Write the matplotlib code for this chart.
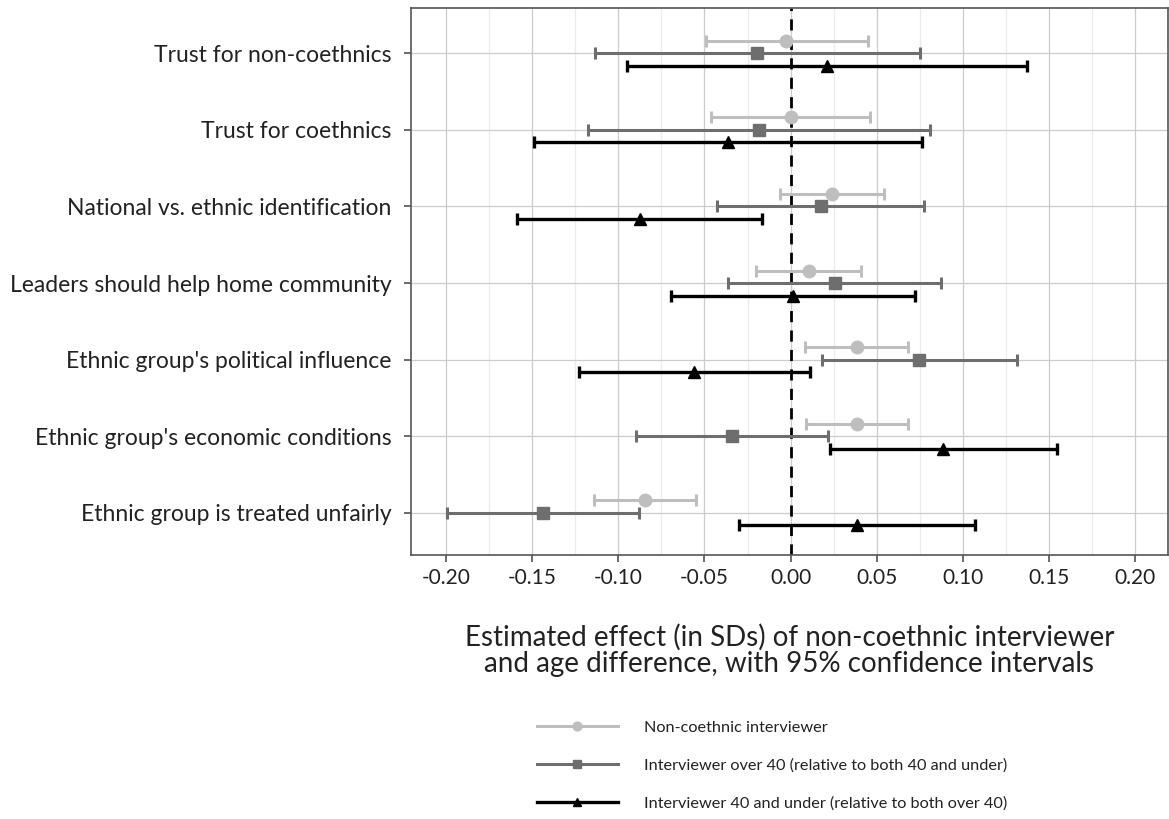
import matplotlib
matplotlib.use("Agg")
import matplotlib.pyplot as plt
import numpy as np
from matplotlib.lines import Line2D
from matplotlib.ticker import MultipleLocator

categories = [
    "Trust for non-coethnics",
    "Trust for coethnics",
    "National vs. ethnic identification",
    "Leaders should help home community",
    "Ethnic group's political influence",
    "Ethnic group's economic conditions",
    "Ethnic group is treated unfairly",
]
series_names = [
    "Non-coethnic interviewer",
    "Interviewer over 40 (relative to both 40 and under)",
    "Interviewer 40 and under (relative to both over 40)",
]
x_tick_values = [-0.20, -0.15, -0.10, -0.05, 0.00, 0.05, 0.10, 0.15, 0.20]
x_tick_labels = ["-0.20", "-0.15", "-0.10", "-0.05", "0.00", "0.05", "0.10", "0.15", "0.20"]

noncoethnic_est = [-0.0025, 0.000, 0.024, 0.0106, 0.0383, 0.0385, -0.0845]
noncoethnic_lo = [-0.049, -0.0464, -0.006, -0.0199, 0.0085, 0.0091, -0.114]
noncoethnic_hi = [0.0448, 0.0462, 0.0543, 0.041, 0.068, 0.0682, -0.0549]

over40_est = [-0.0195, -0.0186, 0.0176, 0.0255, 0.0748, -0.0342, -0.1436]
over40_lo = [-0.1138, -0.1177, -0.0427, -0.0361, 0.0182, -0.0899, -0.1996]
over40_hi = [0.075, 0.081, 0.0777, 0.0875, 0.1316, 0.0218, -0.088]

under40_est = [0.0213, -0.0363, -0.0875, 0.0013, -0.056, 0.0885, 0.0383]
under40_lo = [-0.0949, -0.149, -0.1587, -0.0692, -0.1227, 0.023, -0.030]
under40_hi = [0.137, 0.0763, -0.0164, 0.072, 0.011, 0.1544, 0.1072]

plt.rcParams['font.family'] = ['Lato', 'DejaVu Sans']

fig = plt.figure(figsize=(11.69, 8.19), dpi=100)
ax = fig.add_axes([0.3516, 0.3223, 0.6475, 0.6680])

n = len(categories)
ypos = np.arange(n, 0, -1)  # top category at highest y
offsets = [0.163, 0.0, -0.163]
colors = ["#BEBEBE", "#6E6E6E", "#000000"]
markers = ["o", "s", "^"]
msizes = [9, 8, 9]
lws = [2.2, 2.2, 2.4]
data = [
    (noncoethnic_est, noncoethnic_lo, noncoethnic_hi),
    (over40_est, over40_lo, over40_hi),
    (under40_est, under40_lo, under40_hi),
]

ax.axvline(0, color="black", lw=2, ls=(0, (4, 3)), zorder=2)

handles = []
for (est, lo, hi), off, c, m, ms, lw, name in zip(data, offsets, colors, markers, msizes, lws, series_names):
    est = np.array(est); lo = np.array(lo); hi = np.array(hi)
    y = ypos + off
    ax.errorbar(est, y, xerr=[est - lo, hi - est], fmt="none", ecolor=c,
                elinewidth=lw, capsize=4, capthick=lw, zorder=3)
    ax.plot(est, y, ls="none", marker=m, color=c, ms=ms, zorder=4)
    handles.append(Line2D([0], [0], color=c, lw=lw, marker=m, ms=ms * 0.7))

ax.set_xlim(-0.2203, 0.219)
ax.set_ylim(0.45, 7.59)
ax.xaxis.set_minor_locator(MultipleLocator(0.025))
ax.set_xticks(x_tick_values)
ax.set_xticklabels(x_tick_labels)
ax.set_yticks(ypos)
ax.set_yticklabels(categories)
ax.grid(which="major", color="#CCCCCC", lw=0.9, zorder=0)
ax.grid(which="minor", axis="x", color="#EBEBEB", lw=0.9, zorder=0)
ax.set_axisbelow(True)
for s in ax.spines.values():
    s.set_color("#555555")
    s.set_linewidth(1.2)
ax.tick_params(axis="both", which="major", length=5, width=1.1, color="#444444",
               labelcolor="#222222")
ax.tick_params(axis="y", labelsize=16.5, pad=9)
ax.tick_params(axis="x", labelsize=15, pad=4)
ax.tick_params(axis="x", which="minor", length=0)

ax.set_xlabel("Estimated effect (in SDs) of non-coethnic interviewer\nand age difference, with 95% confidence intervals",
              fontsize=20, color="#222222", labelpad=26, linespacing=1.0)

leg = fig.legend(handles=handles, labels=series_names, loc="upper left",
                 bbox_to_anchor=(0.4466, 0.138), frameon=False, fontsize=11.7,
                 handlelength=5.0, handletextpad=1.6, labelspacing=1.45)
for t in leg.get_texts():
    t.set_color("#222222")

fig.savefig("out.png", dpi=100)
